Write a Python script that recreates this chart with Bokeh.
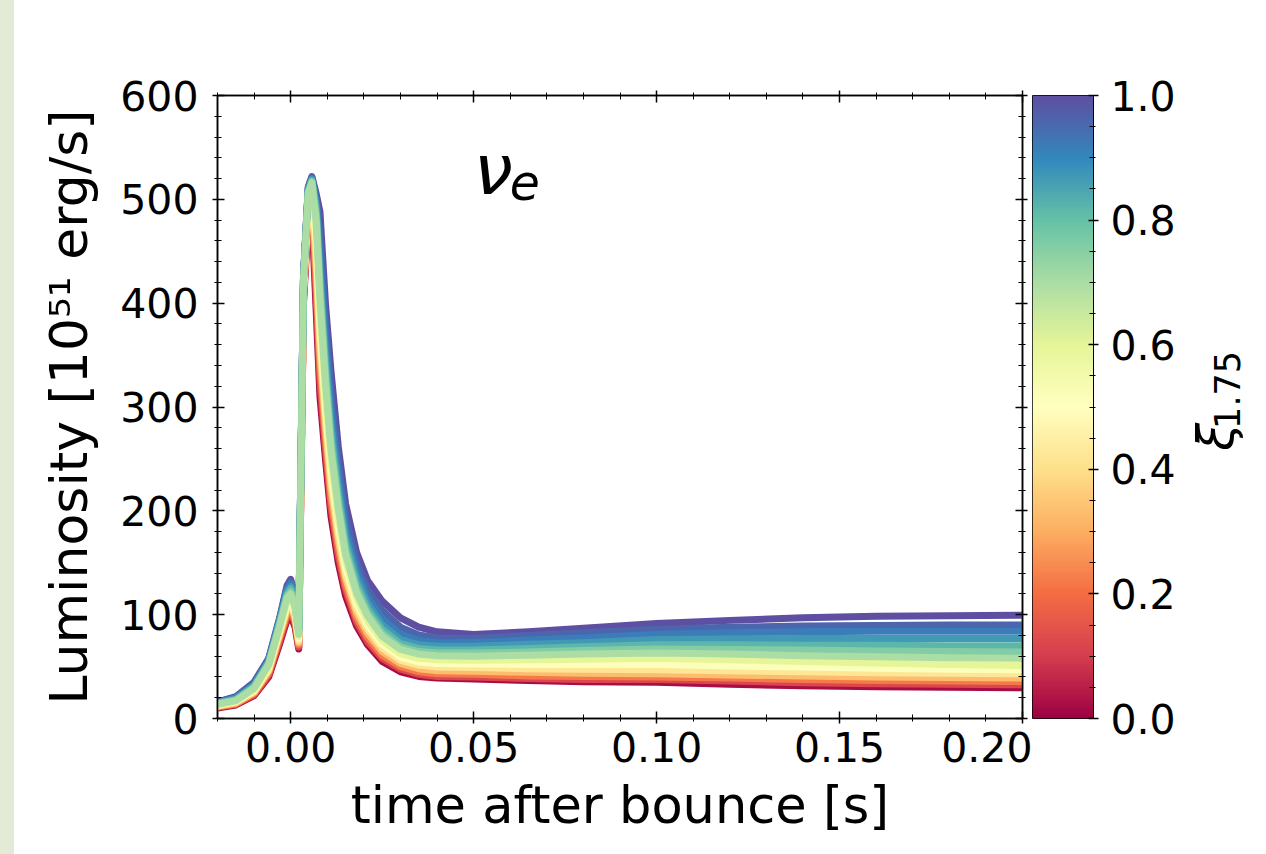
import numpy as np
from bokeh.plotting import figure
from bokeh.models import (FixedTicker, LinearAxis, PrintfTickFormatter, BasicTickFormatter,
                          CustomJSTickFormatter, CustomLabelingPolicy,
                          Label, Spacer, Range1d, LinearColorMapper)
from bokeh.layouts import row
from bokeh.embed import file_html
from bokeh.resources import INLINE

# ---------------- data ----------------
time_s = [-0.020, -0.015, -0.010, -0.006, -0.003, -0.001, 0.000, 0.0012, 0.0022,
          0.0035, 0.0048, 0.0058, 0.0070, 0.0080,
          0.0095, 0.0110, 0.0130, 0.0150, 0.0180, 0.0210, 0.0250, 0.0300, 0.0350, 0.0400,
          0.0500, 0.0650, 0.0800, 0.1000, 0.1200, 0.1400, 0.1600, 0.1800, 0.2000]

xi_values = [0.02, 0.12, 0.22, 0.33, 0.42, 0.51, 0.60, 0.70, 0.76, 0.82, 0.87, 0.92, 0.96, 1.00]

lum_xi_002 = [10, 13, 22, 40, 72, 95, 99, 88, 67,
              400, 480, 485, 390, 310,
              250, 195, 150, 118, 89, 71, 55, 45, 40.5, 39,
              38, 36.5, 35.5, 35, 33, 31.5, 30.5, 30, 29.5]
lum_xi_012 = [11, 14, 23, 42, 75, 98, 102, 91, 69,
              404, 486, 492, 405, 325,
              260, 204, 157, 124, 93, 74, 58, 47.5, 42.5, 40.5,
              40, 38.5, 37.5, 37.5, 36, 34.5, 33.5, 33, 32.5]
lum_xi_022 = [11, 14, 24, 44, 78, 101, 105, 94, 71,
              408, 490, 498, 420, 340,
              270, 212, 164, 129, 97, 78, 61, 50, 45, 43,
              42.5, 41, 40.5, 40, 39, 37.5, 36.5, 36, 35.5]
lum_xi_033 = [12, 15, 25, 46, 81, 104, 108, 97, 73,
              411, 494, 503, 435, 355,
              282, 222, 172, 135, 102, 82, 64.5, 53, 48, 46,
              45.5, 44.5, 43.5, 43, 42, 41, 40, 39.5, 39]
lum_xi_042 = [12, 16, 26, 47, 83, 107, 111, 99, 75,
              414, 497, 507, 447, 368,
              292, 231, 179, 140, 106, 86, 68, 56, 51.5, 49.5,
              49, 48, 47.5, 47, 46, 45, 44, 43.5, 43]
lum_xi_051 = [13, 16, 27, 49, 85, 110, 114, 102, 77,
              417, 500, 510, 458, 380,
              302, 240, 186, 146, 111, 90, 71.5, 59, 54.5, 53,
              52.5, 52, 52, 52, 50.5, 49.5, 48.5, 47.5, 47]
lum_xi_060 = [13, 17, 28, 50, 87, 113, 117, 105, 79,
              419, 503, 513, 468, 392,
              312, 249, 193, 152, 116, 94, 75, 62.5, 58, 56.5,
              56, 56.5, 57, 58, 56.5, 55, 53.5, 52, 51]
lum_xi_070 = [14, 17, 29, 52, 89, 116, 120, 107, 81,
              421, 506, 516, 477, 404,
              323, 259, 202, 158, 121, 99, 79, 66.5, 62, 60.5,
              60, 61, 62, 63, 62, 60.5, 59.5, 58.5, 58]
lum_xi_076 = [14, 18, 30, 53, 91, 118, 122, 109, 82,
              422, 507, 517, 483, 412,
              330, 265, 208, 162, 125, 102, 82, 69, 64.5, 63,
              63, 64, 65.5, 67, 66.5, 66, 65, 64.5, 64]
lum_xi_082 = [15, 18, 31, 54, 92, 120, 125, 111, 84,
              423, 508, 518, 488, 420,
              340, 274, 215, 168, 130, 106, 86, 72, 67.5, 66,
              66, 67.5, 69, 71, 71, 70.5, 70.5, 70, 70]
lum_xi_087 = [15, 19, 32, 55, 94, 122, 127, 113, 85,
              424, 509, 519, 493, 430,
              352, 285, 224, 175, 136, 111, 90, 76, 71, 69.5,
              69.5, 71.5, 73, 76, 76.5, 77, 77, 77, 77]
lum_xi_092 = [15, 20, 33, 56, 95, 124, 130, 115, 86,
              425, 510, 520, 497, 445,
              366, 298, 235, 183, 143, 117, 96, 81, 75, 73,
              73, 75.5, 77.5, 81, 82.5, 83.5, 84, 84, 84]
lum_xi_096 = [16, 20, 34, 57, 96, 126, 132, 117, 87,
              425, 511, 521, 501, 465,
              382, 315, 247, 194, 151, 124, 104, 88, 80.5, 77.5,
              77, 80, 82.5, 86, 88, 89, 89.5, 90, 90]
lum_xi_100 = [16, 21, 35, 58, 97, 128, 134, 118, 88,
              426, 512, 522, 505, 488,
              400, 335, 262, 207, 160, 133, 113, 97, 88, 83.5,
              81, 83.5, 87, 91.5, 94.5, 97, 98.5, 99, 99.5]

curves = [lum_xi_002, lum_xi_012, lum_xi_022, lum_xi_033, lum_xi_042, lum_xi_051, lum_xi_060,
          lum_xi_070, lum_xi_076, lum_xi_082, lum_xi_087, lum_xi_092, lum_xi_096, lum_xi_100]
draw_order = [0, 1, 2, 3, 4, 5, 6, 13, 12, 11, 10, 9, 8, 7]

x_major = [0.0, 0.05, 0.10, 0.15, 0.20]
x_minor = [-0.02, -0.01, 0.01, 0.02, 0.03, 0.04, 0.06, 0.07, 0.08, 0.09, 0.11, 0.12, 0.13, 0.14,
           0.16, 0.17, 0.18, 0.19]
y_major = [0, 100, 200, 300, 400, 500, 600]
y_minor = [20, 40, 60, 80, 120, 140, 160, 180, 220, 240, 260, 280, 320, 340, 360, 380,
           420, 440, 460, 480, 520, 540, 560, 580]
cb_major = [0.0, 0.2, 0.4, 0.6, 0.8, 1.0]
cb_minor = [0.05, 0.1, 0.15, 0.25, 0.3, 0.35, 0.45, 0.5, 0.55, 0.65, 0.7, 0.75, 0.85, 0.9, 0.95]

# ---------------- colormap (Spectral) ----------------
SPECTRAL = ["#9e0142", "#d53e4f", "#f46d43", "#fdae61", "#fee08b", "#ffffbf",
            "#e6f598", "#abdda4", "#66c2a5", "#3288bd", "#5e4fa2"]


def _rgb(h):
    return [int(h[i:i + 2], 16) for i in (1, 3, 5)]


def spectral(v):
    v = min(max(v, 0.0), 1.0)
    pos = v * (len(SPECTRAL) - 1)
    i = min(int(pos), len(SPECTRAL) - 2)
    f = pos - i
    a, b = _rgb(SPECTRAL[i]), _rgb(SPECTRAL[i + 1])
    c = [round(a[k] + (b[k] - a[k]) * f) for k in range(3)]
    return "#%02x%02x%02x" % tuple(c)


palette = [spectral(k / 255) for k in range(256)]

FONT = "DejaVu Sans"

# ---------------- main figure ----------------
p = figure(width=1018, height=854, x_range=Range1d(-0.02, 0.20), y_range=Range1d(0, 600),
           output_backend="svg", toolbar_location=None,
           min_border_left=203, min_border_right=10, min_border_top=95, min_border_bottom=136)
p.xgrid.visible = False
p.ygrid.visible = False
p.outline_line_color = "black"
p.outline_line_width = 1.5
p.background_fill_color = "white"
p.border_fill_color = "white"

for idx in draw_order:
    p.line(time_s, curves[idx], line_color=spectral(xi_values[idx]), line_width=7,
           line_join="round", line_cap="round")


def style_axis(ax, ticker, fmt, show_labels, fs="41px", standoff=12):
    ax.ticker = ticker
    ax.axis_line_color = "black"
    ax.axis_line_width = 1.5
    ax.major_tick_line_color = "black"
    ax.major_tick_line_width = 1.5
    ax.minor_tick_line_color = "black"
    ax.minor_tick_line_width = 1
    ax.major_tick_in = 7
    ax.major_tick_out = 5
    ax.minor_tick_in = 4
    ax.minor_tick_out = 3
    ax.major_label_text_font = FONT
    ax.major_label_text_color = "black"
    ax.major_label_text_font_size = fs
    if show_labels:
        ax.formatter = fmt
        ax.major_label_standoff = standoff
    else:
        # tick marks only: no label texts at all
        ax.formatter = CustomJSTickFormatter(code="return ''")
        ax.major_label_policy = CustomLabelingPolicy(code="return []")
        ax.major_label_standoff = 0


xt = FixedTicker(ticks=x_major, minor_ticks=x_minor)
yt = FixedTicker(ticks=y_major, minor_ticks=y_minor)

style_axis(p.xaxis[0], xt, PrintfTickFormatter(format="%.2f"), True, standoff=8)
style_axis(p.yaxis[0], yt, BasicTickFormatter(), True, standoff=14)
p.xaxis[0].axis_label = "time after bounce [s]"
p.yaxis[0].axis_label = "Luminosity [10\u2075\u00b9 erg/s]"
for ax in (p.xaxis[0], p.yaxis[0]):
    ax.axis_label_text_font = FONT
    ax.axis_label_text_font_style = "normal"
    ax.axis_label_text_color = "black"
p.xaxis[0].axis_label_text_font_size = "51px"
p.yaxis[0].axis_label_text_font_size = "52px"
p.xaxis[0].axis_label_standoff = 11
p.yaxis[0].axis_label_standoff = 18

top_ax = LinearAxis()
style_axis(top_ax, FixedTicker(ticks=x_major, minor_ticks=x_minor), None, False)
p.add_layout(top_ax, "above")
right_ax = LinearAxis()
style_axis(right_ax, FixedTicker(ticks=y_major, minor_ticks=y_minor), None, False)
p.add_layout(right_ax, "right")

nu = Label(x=0.050, y=528, text="\u03bd", text_font=FONT, text_font_style="italic",
           text_font_size="70px", text_baseline="alphabetic", text_align="left",
           text_color="black")
nu_e = Label(x=0.050, y=517, x_offset=36, text="e", text_font=FONT, text_font_style="italic",
             text_font_size="49px", text_baseline="alphabetic", text_align="left",
             text_color="black")
p.add_layout(nu)
p.add_layout(nu_e)

# ---------------- colour bar figure ----------------
p2 = figure(width=150, height=854, x_range=Range1d(0, 1), y_range=Range1d(0, 1),
            output_backend="svg", toolbar_location=None,
            x_axis_location=None, y_axis_location=None,
            min_border_left=0, min_border_right=89, min_border_top=95, min_border_bottom=136)
p2.xgrid.visible = False
p2.ygrid.visible = False
p2.outline_line_color = "black"
p2.outline_line_width = 1
p2.border_fill_color = "white"

cb_levels = np.linspace(0, 1, 256).reshape(-1, 1)
p2.image(image=[cb_levels], x=0, y=0, dw=1, dh=1,
         color_mapper=LinearColorMapper(palette=palette, low=0, high=1))

cb_ax = LinearAxis()
style_axis(cb_ax, FixedTicker(ticks=cb_major, minor_ticks=cb_minor),
           PrintfTickFormatter(format="%.1f"), True, standoff=12)
cb_ax.axis_line_width = 1
cb_ax.major_tick_in = 5
cb_ax.major_tick_out = 5
cb_ax.minor_tick_in = 4
cb_ax.minor_tick_out = 2
p2.add_layout(cb_ax, "right")

# ---------------- colour bar label (own small canvas, pixel units) ----------------
p3 = figure(width=84, height=854, x_range=Range1d(0, 84), y_range=Range1d(0, 854),
            output_backend="svg", toolbar_location=None,
            x_axis_location=None, y_axis_location=None,
            min_border_left=0, min_border_right=0, min_border_top=0, min_border_bottom=0)
p3.xgrid.visible = False
p3.ygrid.visible = False
p3.outline_line_color = None
p3.border_fill_color = "white"
p3.background_fill_color = "white"

xi_sym = Label(x=33, y=367, text="\u03be", text_font=FONT, text_font_style="italic",
               text_font_size="50px", text_baseline="alphabetic", text_align="left",
               angle=np.pi / 2, text_color="black")
xi_sub = Label(x=44, y=397, text="1.75", text_font=FONT, text_font_style="normal",
               text_font_size="35px", text_baseline="alphabetic", text_align="left",
               angle=np.pi / 2, text_color="black")
p3.add_layout(xi_sym)
p3.add_layout(xi_sub)

strip = Spacer(width=14, height=854, styles={"background-color": "#e3ead6"})

layout = row(strip, p, p2, p3)
open("out.html", "w").write(file_html(layout, INLINE))
